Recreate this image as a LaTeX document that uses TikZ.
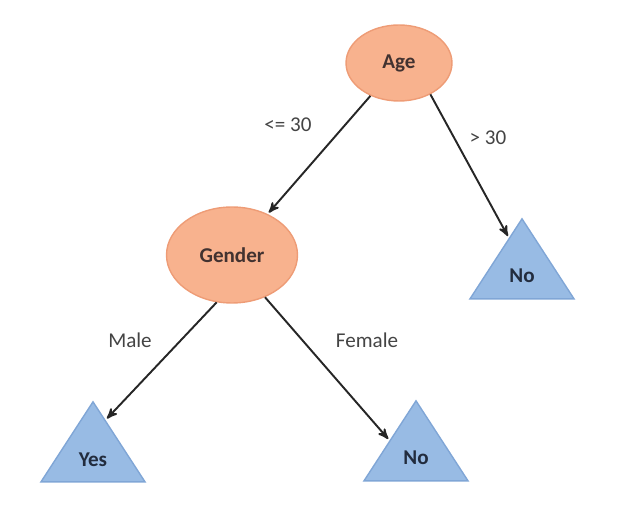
\documentclass[tikz,border=0pt]{standalone}
\usepackage{fontspec}
\setmainfont{Carlito}
\usetikzlibrary{arrows,shapes.geometric,calc}

\definecolor{agefill}{RGB}{248,178,142}
\definecolor{ageline}{RGB}{238,156,118}
\definecolor{leaffill}{RGB}{152,187,228}
\definecolor{leafline}{RGB}{128,166,214}
\definecolor{nodetext}{RGB}{66,50,48}
\definecolor{leaftext}{RGB}{34,44,62}
\definecolor{labeltext}{RGB}{68,68,68}
\definecolor{arrowgray}{RGB}{38,38,38}

\begin{document}
\begin{tikzpicture}[x=0.02cm,y=-0.02cm,>=stealth',shorten >=1pt,
    decision/.style={ellipse,draw=ageline,fill=agefill,thick,text=nodetext,
        font=\fontsize{12}{14}\selectfont\bfseries},
    leaf/.style={isosceles triangle,isosceles triangle stretches,shape border rotate=90,
        draw=leafline,fill=leaffill,thick,minimum width=2.08cm,minimum height=1.6cm,
        anchor=apex,inner sep=0pt,text=leaftext,font=\fontsize{12}{14}\selectfont\bfseries},
    branch/.style={text=labeltext,font=\fontsize{12}{14}\selectfont}]
  \useasboundingbox (0,0) rectangle (628,509);

  \node[decision,minimum width=2.12cm,minimum height=1.52cm] (age)    at (399,63)  {Age};
  \node[decision,minimum width=2.62cm,minimum height=1.92cm] (gender) at (232,255) {Gender};
  \node[leaf] (no1) at (522,217) {No};
  \node[leaf] (yes) at (93,400)  {Yes};
  \node[leaf] (no2) at (416,399) {No};

  \node[branch] (le30)   at (288,125) {<= 30};
  \node[branch] (gt30)   at (488,138) {> 30};
  \node[branch] (male)   at (130,340) {Male};
  \node[branch] (female) at (367,340) {Female};

  \draw[line width=1.1pt, arrowgray]
        (age) edge[->] (gender)
        (age.-45) edge[->] ($(no1.apex)!.25!(no1.left corner)$)
        (gender.-108) edge[->] ($(yes.apex)!.24!(yes.right corner)$)
        (gender.-52) edge[->] (no2.left side);
\end{tikzpicture}
\end{document}
